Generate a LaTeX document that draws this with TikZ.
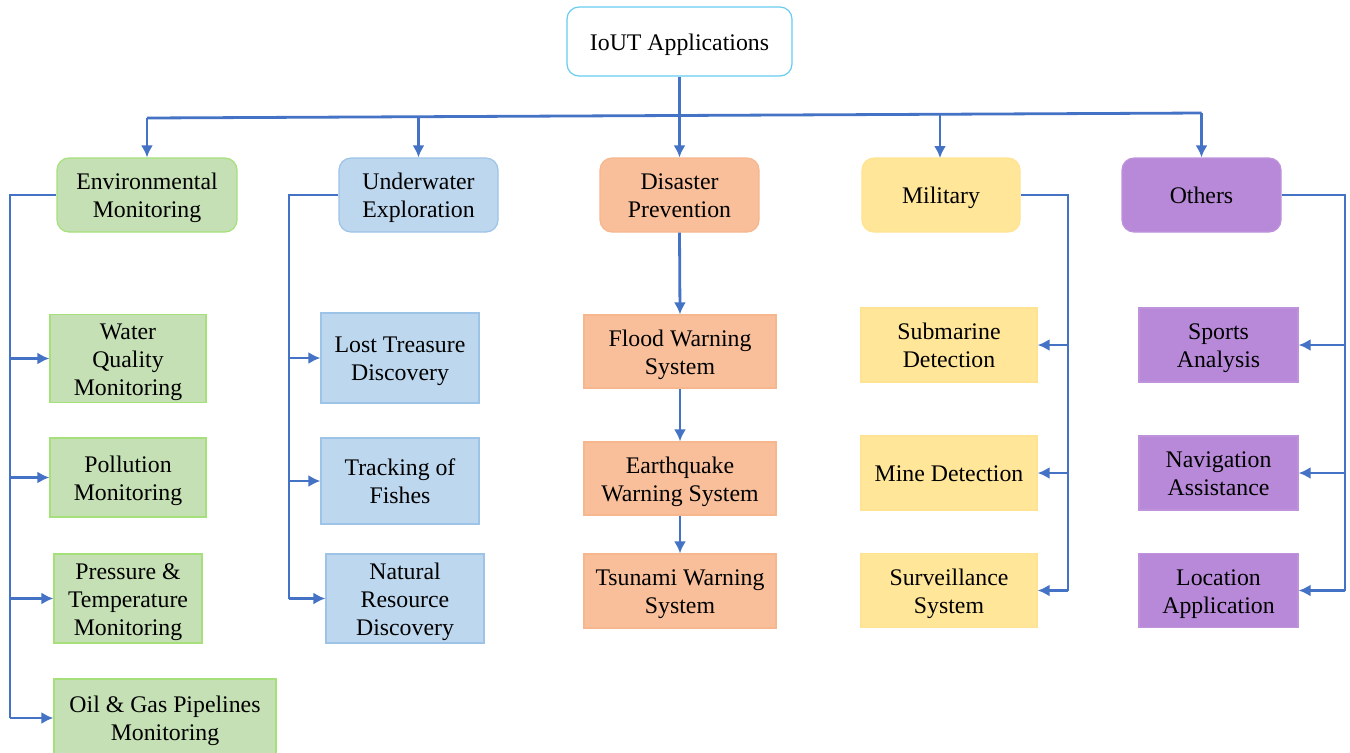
\documentclass[tikz,border=0pt]{standalone}
\usepackage{fontspec}
\setmainfont{Liberation Serif}
\usetikzlibrary{arrows.meta}
\definecolor{lnc}{HTML}{4472C4}
\definecolor{rootb}{HTML}{66CCF0}
\definecolor{gfill}{HTML}{C5E0B4}
\definecolor{gbord}{HTML}{A6E07A}
\definecolor{bfill}{HTML}{BDD7EE}
\definecolor{bbord}{HTML}{9DC3E6}
\definecolor{ofill}{HTML}{F8BF9A}
\definecolor{obord}{HTML}{F6B78F}
\definecolor{yfill}{HTML}{FFE699}
\definecolor{ybord}{HTML}{FFE392}
\definecolor{pfill}{HTML}{B789D8}
\definecolor{pbord}{HTML}{BE93DC}
\newcommand\tx[1]{\raisebox{-1.5pt}[\height][\depth]{\begin{tabular}{@{}c@{}}#1\end{tabular}}}
\tikzset{
  box/.style={inner sep=1pt, font=\fontsize{11.9}{14}\selectfont, line width=0.6pt},
  cat/.style={box, rounded corners=6pt, minimum height=37pt},
  leaf/.style={box, minimum height=37pt},
  green/.style={fill=gfill, draw=gbord},
  blue/.style={fill=bfill, draw=bbord},
  orange/.style={fill=ofill, draw=obord},
  yellow/.style={fill=yfill, draw=ybord},
  purple/.style={fill=pfill, draw=pbord},
  conn/.style={draw=lnc, line width=1.4pt},
  arr/.style={conn, -{Latex[length=6pt,width=6pt]}}
}
\begin{document}
\begin{tikzpicture}[x=0.5pt,y=-0.5pt]
\useasboundingbox (0,0) rectangle (1350,752);
% root
\node[box, draw=rootb, fill=white, rounded corners=6pt, minimum width=112.5pt, minimum height=34.5pt] (root) at (679.5,41.5) {\tx{IoUT Applications}};
% categories
\node[cat, green, minimum width=90pt] (env) at (147,195) {\tx{Environmental\\Monitoring}};
\node[cat, blue, minimum width=79.5pt] (uwe) at (418.5,195) {\tx{Underwater\\Exploration}};
\node[cat, orange, minimum width=79.5pt] (dis) at (679.5,195) {\tx{Disaster\\Prevention}};
\node[cat, yellow, minimum width=79pt] (mil) at (941,195) {\tx{Military}};
\node[cat, purple, minimum width=79.5pt] (oth) at (1201.5,195) {\tx{Others}};
% environmental leaves
\node[leaf, green, minimum width=78pt, minimum height=43.5pt] (wq) at (128,358.5) {\tx{Water\\Quality\\Monitoring}};
\node[leaf, green, minimum width=78pt, minimum height=39.5pt] (pol) at (128,477.5) {\tx{Pollution\\Monitoring}};
\node[leaf, green, minimum width=74pt, minimum height=44.5pt] (pt) at (128,598.5) {\tx{Pressure \&\\Temperature\\Monitoring}};
\node[leaf, green, minimum width=111pt, minimum height=39pt] (oil) at (165,718) {\tx{Oil \& Gas Pipelines\\Monitoring}};
% underwater leaves
\node[leaf, blue, minimum width=79pt, minimum height=45pt] (lt) at (400,358) {\tx{Lost Treasure\\Discovery}};
\node[leaf, blue, minimum width=79pt, minimum height=43pt] (tf) at (400,481) {\tx{Tracking of\\Fishes}};
\node[leaf, blue, minimum width=79pt, minimum height=44.5pt] (nr) at (405,598.5) {\tx{Natural\\Resource\\Discovery}};
% disaster leaves
\node[leaf, orange, minimum width=96pt, minimum height=36.5pt] (fl) at (680,351.5) {\tx{Flood Warning\\System}};
\node[leaf, orange, minimum width=96pt, minimum height=36.5pt] (eq) at (680,478.5) {\tx{Earthquake\\Warning System}};
\node[leaf, orange, minimum width=96pt, minimum height=37pt] (ts) at (680,591) {\tx{Tsunami Warning\\System}};
% military leaves
\node[leaf, yellow, minimum width=88pt] (sub) at (949,345) {\tx{Submarine\\Detection}};
\node[leaf, yellow, minimum width=88pt] (mine) at (949,473) {\tx{Mine Detection}};
\node[leaf, yellow, minimum width=88pt] (sur) at (949,590.5) {\tx{Surveillance\\System}};
% others leaves
\node[leaf, purple, minimum width=79.5pt] (spo) at (1218.5,345) {\tx{Sports\\Analysis}};
\node[leaf, purple, minimum width=79.5pt] (nav) at (1218.5,473) {\tx{Navigation\\Assistance}};
\node[leaf, purple, minimum width=79.5pt] (loc) at (1218.5,590.5) {\tx{Location\\Application}};
% top bus
\coordinate (busL) at (147,118);
\coordinate (busR) at (1201.5,113);
\draw[conn] (busL) -- (busR);
\draw[arr] (root.south) -- (dis.north);
\draw[arr] (busL) -- (env.north);
\draw[arr] (uwe.north |- 0,117) -- (uwe.north);
\draw[arr] (940,114) -- (940,158);
\draw[arr] (busR) -- (oth.north);
% environmental bus
\coordinate (eb) at (10,195);
\draw[conn] (env.west) -- (eb) -- (eb |- oil.west);
\draw[arr] (eb |- wq.west) -- (wq.west);
\draw[arr] (eb |- pol.west) -- (pol.west);
\draw[arr] (eb |- pt.west) -- (pt.west);
\draw[arr] (eb |- oil.west) -- (oil.west);
% underwater bus
\coordinate (ub) at (289,195);
\draw[conn] (uwe.west) -- (ub) -- (ub |- nr.west);
\draw[arr] (ub |- lt.west) -- (lt.west);
\draw[arr] (ub |- tf.west) -- (tf.west);
\draw[arr] (ub |- nr.west) -- (nr.west);
% disaster chain
\draw[arr] (dis.south) -- (fl.north);
\draw[arr] (fl.south) -- (eq.north);
\draw[arr] (eq.south) -- (ts.north);
% military bus
\coordinate (mb) at (1068,195);
\draw[conn] (mil.east) -- (mb) -- (mb |- sur.east);
\draw[arr] (mb |- sub.east) -- (sub.east);
\draw[arr] (mb |- mine.east) -- (mine.east);
\draw[arr] (mb |- sur.east) -- (sur.east);
% others bus
\coordinate (ob) at (1345,195);
\draw[conn] (oth.east) -- (ob) -- (ob |- loc.east);
\draw[arr] (ob |- spo.east) -- (spo.east);
\draw[arr] (ob |- nav.east) -- (nav.east);
\draw[arr] (ob |- loc.east) -- (loc.east);
\end{tikzpicture}
\end{document}
